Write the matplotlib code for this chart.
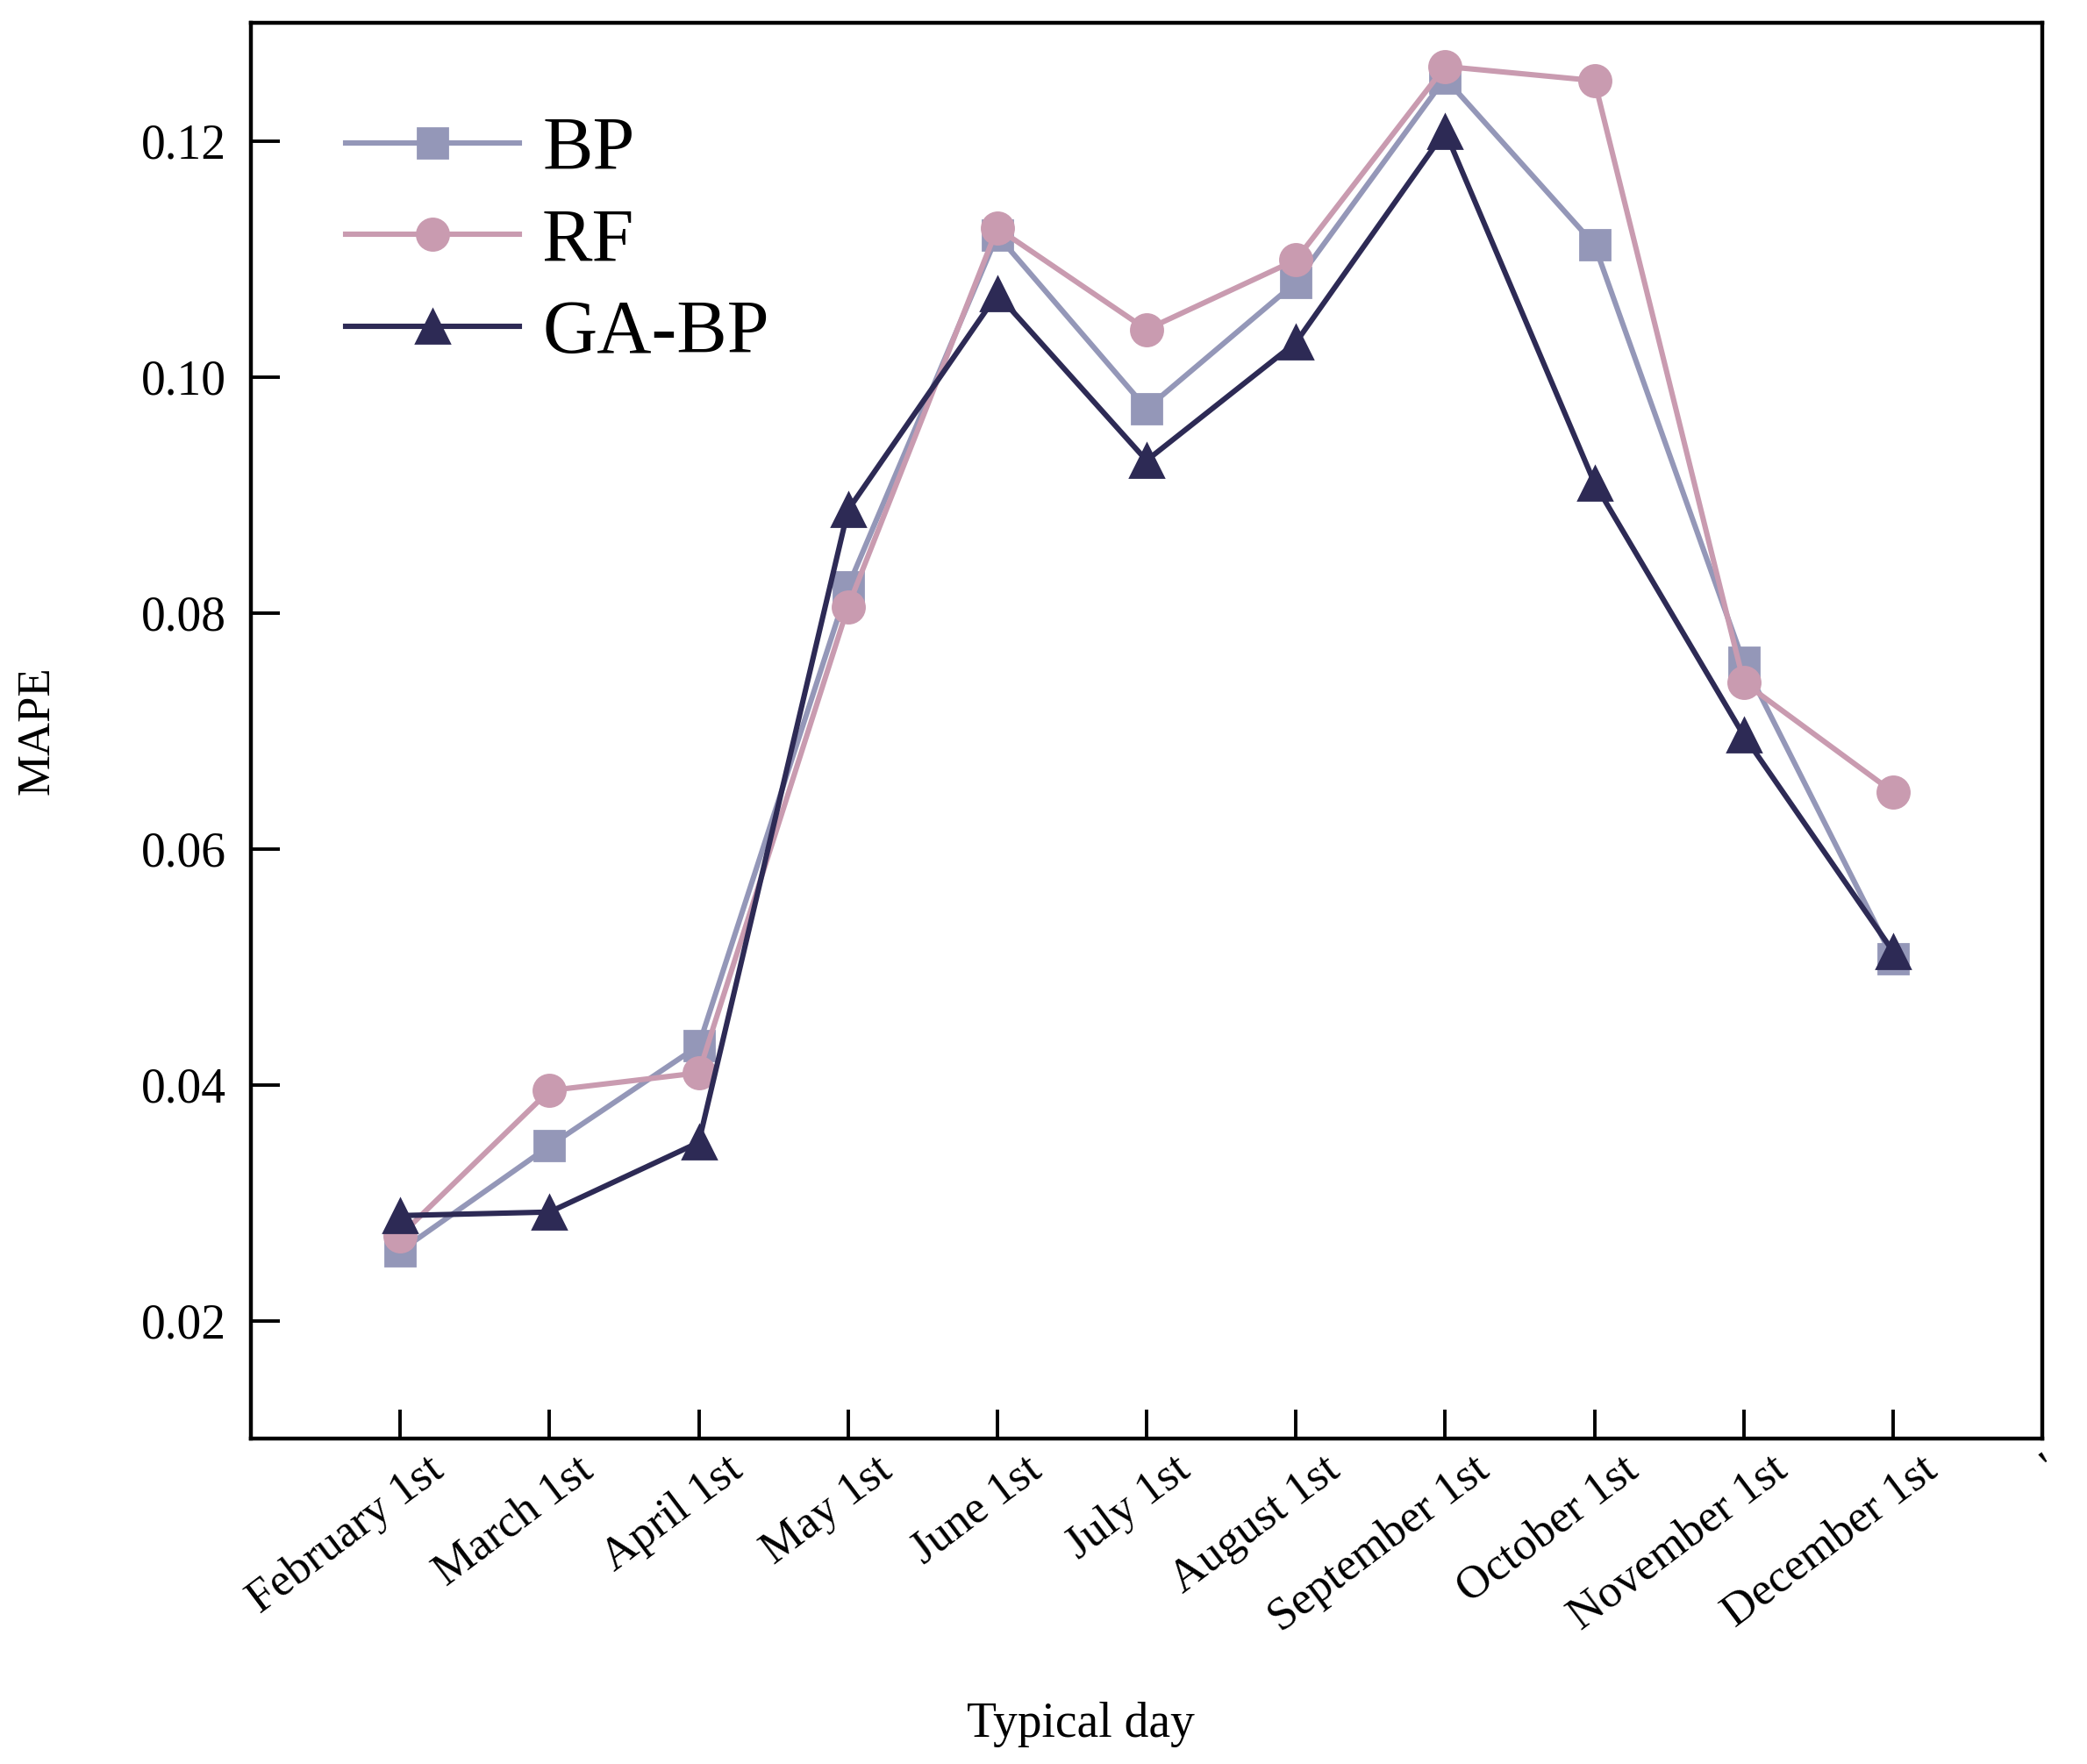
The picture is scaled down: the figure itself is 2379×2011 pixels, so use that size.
import matplotlib.pyplot as plt
import matplotlib.transforms as mtransforms

days = ["February 1st", "March 1st", "April 1st", "May 1st", "June 1st", "July 1st",
        "August 1st", "September 1st", "October 1st", "November 1st", "December 1st"]
bp = [0.0259, 0.0348, 0.0433, 0.0822, 0.1120, 0.0973, 0.1080, 0.1253, 0.1112, 0.0758, 0.0507]
rf = [0.0272, 0.0395, 0.0410, 0.0805, 0.1126, 0.1040, 0.1099, 0.1263, 0.1251, 0.0741, 0.0648]
gabp = [0.0289, 0.0292, 0.0351, 0.0887, 0.1070, 0.0929, 0.1029, 0.1208, 0.0910, 0.0696, 0.0513]
yticks = [0.02, 0.04, 0.06, 0.08, 0.10, 0.12]

plt.rcParams['font.family'] = ['Liberation Serif', 'DejaVu Serif']

fig = plt.figure(figsize=(11.895, 10.055), dpi=200)
ax = fig.add_axes([286/2379, 1-1640/2011, (2328-286)/2379, (1640-26)/2011])

x = list(range(len(days)))
ax.plot(x, bp, '-s', color='#9497b8', lw=2.2, ms=12, label='BP')
ax.plot(x, rf, '-o', color='#c99bb0', lw=2.2, ms=13, label='RF')
ax.plot(x, gabp, '-^', color='#2d2a55', lw=2.2, ms=14, label='GA-BP')

ax.set_xlim(-1, 11)
ax.set_ylim(0.01, 0.13)
ax.set_xticks(x + [11])
ax.set_xticklabels(days + ["'"], rotation=37, ha='right', rotation_mode='anchor', fontsize=19)
ax.set_yticks(yticks)
ax.set_yticklabels(["%.2f" % v for v in yticks], fontsize=20)
ax.tick_params(direction='in', length=12, width=1.4, pad=10)
ax.tick_params(axis='x', pad=4)
# nudge rotated labels to the right like the original
shift = mtransforms.ScaledTranslation(0.15, 0, fig.dpi_scale_trans)
for lab in ax.get_xticklabels()[:-1]:
    lab.set_transform(lab.get_transform() + shift)
for s in ax.spines.values():
    s.set_linewidth(1.6)

ax.set_xlabel("Typical day", fontsize=20, va='center')
ax.xaxis.set_label_coords(0.463, -0.202)
ax.set_ylabel("MAPE", fontsize=19, labelpad=34)

ax.legend(loc='upper left', bbox_to_anchor=(0.015, 0.982), frameon=False, fontsize=31,
          handlelength=2.3, handletextpad=0.3, labelspacing=0.29)

plt.savefig("out.png", dpi=200)
